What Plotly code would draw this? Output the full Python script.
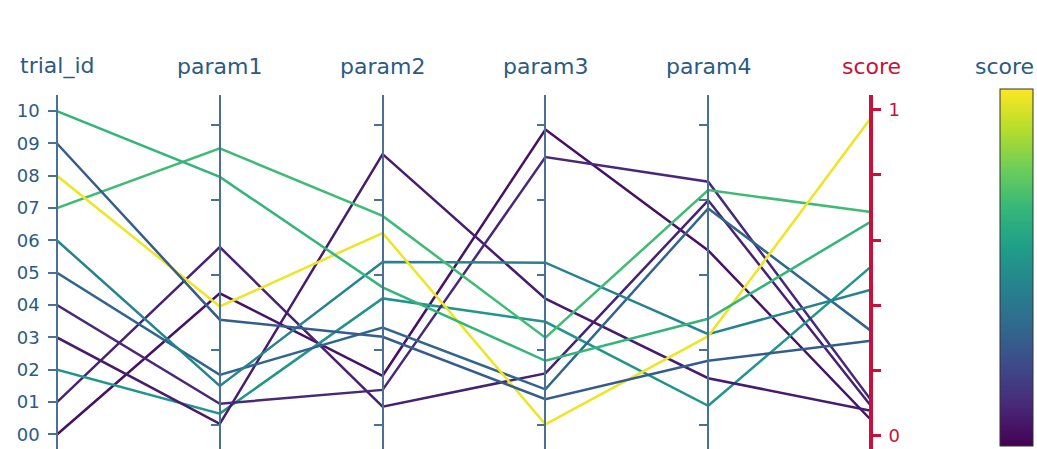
import plotly.graph_objects as go
from plotly.colors import sample_colorscale

# Trials and their sampled hyper-parameters
trial_id = list(range(11))
trial_labels = [f"{i:02d}" for i in trial_id]
param1 = [0.439, 0.593, 0.038, 0.004, 0.071, 0.167, 0.130, 0.922, 0.395, 0.351, 0.827]
param2 = [0.164, 0.061, 0.422, 0.903, 0.117, 0.325, 0.543, 0.697, 0.640, 0.294, 0.459]
param3 = [0.985, 0.172, 0.344, 0.421, 0.893, 0.119, 0.541, 0.291, 0.002, 0.086, 0.214]
param4 = [0.582, 0.749, 0.064, 0.156, 0.811, 0.722, 0.303, 0.783, 0.296, 0.214, 0.354]
score = [0.049, 0.092, 0.519, 0.077, 0.110, 0.322, 0.448, 0.686, 0.975, 0.292, 0.657]

dim_names = ["trial_id", "param1", "param2", "param3", "param4", "score"]
dim_values = [trial_id, param1, param2, param3, param4, score]
dim_ranges = [[-0.45, 10.5], [-0.08, 1.1], [-0.08, 1.1],
              [-0.08, 1.1], [-0.08, 1.1], [-0.04, 1.045]]
param_ticks = [0, 0.25, 0.5, 0.75, 1]
score_ticks = [0, 0.2, 0.4, 0.6, 0.8, 1]
score_ticktext = ["0", "", "", "", "", "1"]

TEXT = "#2b5b84"
AXIS = "#4a7094"
RED = "#c8103c"
FONT = "DejaVu Sans"

W, H = 1037, 449
ML, MR, MT, MB = 57, 166, 95, 0
plot_w, plot_h = W - ML - MR, H - MT - MB
n_dims = len(dim_names)


def to_unit(v, rng):
    """Map a value onto the shared 0..1 vertical scale of the plot area."""
    return (v - rng[0]) / (rng[1] - rng[0])


line_colors = sample_colorscale("Viridis", score)

fig = go.Figure()

# One polyline per trial across all dimensions
for i in range(len(trial_id)):
    ys = [to_unit(dim_values[k][i], dim_ranges[k]) for k in range(n_dims)]
    fig.add_trace(go.Scatter(
        x=list(range(n_dims)), y=ys, mode="lines",
        line=dict(color=line_colors[i], width=2.5),
        hoverinfo="skip", showlegend=False, cliponaxis=False,
    ))

# Each dimension gets its own vertical axis carrying its real values
for k in range(n_dims):
    is_score = dim_names[k] == "score"
    fig.add_trace(go.Scatter(
        x=[k] * len(dim_values[k]), y=dim_values[k], yaxis=f"y{k + 2}",
        mode="markers",
        marker=dict(
            size=6, opacity=0,
            color=score if is_score else None,
            colorscale="Viridis" if is_score else None,
            cmin=0 if is_score else None, cmax=1 if is_score else None,
            showscale=is_score,
            colorbar=dict(
                thickness=33, outlinewidth=1, outlinecolor="#333",
                showticklabels=False, ticks="",
                lenmode="pixels", len=357, ypad=0, xpad=0,
                x=(1000 - ML) / plot_w, xanchor="left",
                y=(H - MB - (89 + 446) / 2) / plot_h, yanchor="middle",
            ) if is_score else None,
        ),
        hoverinfo="skip", showlegend=False,
    ))

layout = dict(
    width=W, height=H,
    margin=dict(l=ML, r=MR, t=MT, b=MB),
    paper_bgcolor="white", plot_bgcolor="white",
    font=dict(family=FONT, color=TEXT),
    xaxis=dict(range=[0, n_dims - 1], visible=False, fixedrange=True),
    yaxis=dict(range=[0, 1], visible=False, fixedrange=True),
)

for k in range(n_dims):
    name = dim_names[k]
    is_score = name == "score"
    ax = dict(
        overlaying="y", anchor="free", position=k / (n_dims - 1),
        range=dim_ranges[k], showgrid=False, zeroline=False,
        showline=True, ticks="outside", ticklen=8,
        linecolor=RED if is_score else AXIS,
        linewidth=4 if is_score else 1.5,
        tickcolor=RED if is_score else AXIS,
        tickwidth=2.5 if is_score else 1.5,
        tickfont=dict(size=18, color=RED if is_score else TEXT, family=FONT),
        side="right" if is_score else "left",
        fixedrange=True,
    )
    if name == "trial_id":
        ax.update(tickmode="array", tickvals=trial_id, ticktext=trial_labels,
                  ticklabelstandoff=5)
    elif is_score:
        ax.update(tickmode="array", tickvals=score_ticks, ticktext=score_ticktext,
                  ticklabelstandoff=4)
    else:
        ax.update(tickmode="array", tickvals=param_ticks, showticklabels=False)
    layout[f"yaxis{k + 2}"] = ax

    fig.add_annotation(
        text=name, xref="x", yref="paper", x=k, y=1,
        xanchor="center", yanchor="middle", yshift=29, showarrow=False,
        font=dict(size=22, color=RED if is_score else TEXT, family=FONT),
    )

# Colour bar heading, kept inside the right edge of the figure
fig.add_annotation(
    text="score", xref="paper", yref="paper", x=(1036 - ML) / plot_w, y=1,
    xanchor="right", yanchor="middle", yshift=29, showarrow=False,
    font=dict(size=22, color=TEXT, family=FONT),
)

fig.update_layout(**layout)
fig.write_html("out.html")
